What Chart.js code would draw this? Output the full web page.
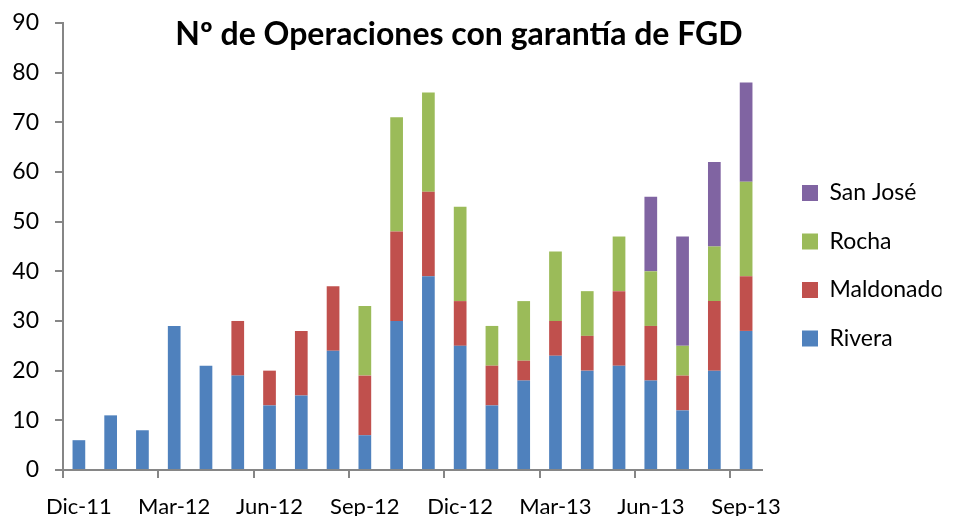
<!DOCTYPE html>
<html>
<head>
<meta charset="utf-8">
<script src="https://cdn.jsdelivr.net/npm/chart.js@4.4.1/dist/chart.umd.min.js"></script>
<style>
  html, body { margin: 0; padding: 0; background: #ffffff; }
  #wrap { position: relative; width: 954px; height: 516px; }
</style>
</head>
<body>
<div id="wrap"><canvas id="c" width="954" height="516"></canvas></div>
<script>
const titleText = "Nº de Operaciones con garantía de FGD";
const months = ["Dic-11","Ene-12","Feb-12","Mar-12","Abr-12","May-12","Jun-12","Jul-12","Ago-12","Sep-12","Oct-12","Nov-12","Dic-12","Ene-13","Feb-13","Mar-13","Abr-13","May-13","Jun-13","Jul-13","Ago-13","Sep-13"];
const rivera    = [6,11,8,29,21,19,13,15,24,7,30,39,25,13,18,23,20,21,18,12,20,28];
const maldonado = [null,null,null,null,null,11,7,13,13,12,18,17,9,8,4,7,7,15,11,7,14,11];
const rocha     = [null,null,null,null,null,null,null,null,null,14,23,20,19,8,12,14,9,11,11,6,11,19];
const sanJose   = [null,null,null,null,null,null,null,null,null,null,null,null,null,null,null,null,null,null,15,22,17,20];
const yTicks = [0,10,20,30,40,50,60,70,80,90];

const FONT = "Lato";
const AXIS = "#868686";

const titlePlugin = {
  id: 'floatTitle',
  afterDraw(chart) {
    const ctx = chart.ctx;
    ctx.save();
    ctx.font = "bold 32px " + FONT;
    ctx.fillStyle = "#000";
    ctx.textAlign = "center";
    ctx.textBaseline = "middle";
    ctx.fillText(titleText, 459, 35);
    ctx.restore();
  }
};

const ds = (label, data, color) => ({
  label, data, backgroundColor: color, borderWidth: 0,
  barPercentage: 0.4, categoryPercentage: 1.0
});

new Chart(document.getElementById('c'), {
  type: 'bar',
  data: {
    labels: months,
    datasets: [
      ds('Rivera', rivera, '#4F81BD'),
      ds('Maldonado', maldonado, '#C0504D'),
      ds('Rocha', rocha, '#9BBB59'),
      ds('San José', sanJose, '#8064A2')
    ]
  },
  options: {
    responsive: false,
    animation: false,
    layout: { padding: { left: 0, right: 12.5, top: 15.5, bottom: 0 } },
    plugins: {
      title: { display: false },
      tooltip: { enabled: false },
      legend: {
        position: 'right',
        reverse: true,
        maxWidth: 165,
        labels: {
          font: { family: FONT, size: 23 },
          color: '#000',
          boxWidth: 16,
          boxHeight: 16,
          padding: 25.5
        }
      }
    },
    scales: {
      x: {
        stacked: true,
        offset: true,
        grid: {
          display: true,
          offset: true,
          drawOnChartArea: false,
          drawTicks: true,
          tickLength: 8,
          lineWidth: 2,
          color: (c) => (c.index % 3 === 0 ? AXIS : 'rgba(0,0,0,0)')
        },
        border: { display: true, color: AXIS, width: 2 },
        ticks: {
          autoSkip: false,
          maxRotation: 0,
          minRotation: 0,
          padding: 15.5,
          color: '#000',
          font: { family: FONT, size: 22 },
          callback: (v, i) => (i % 3 === 0 ? months[i] : '')
        },
        afterFit: (s) => { s.height = 46; }
      },
      y: {
        stacked: true,
        min: 0,
        max: 90,
        afterBuildTicks: (s) => { s.ticks = yTicks.map(v => ({ value: v })); },
        grid: {
          display: true,
          drawOnChartArea: false,
          drawTicks: true,
          tickLength: 8,
          lineWidth: 2,
          color: AXIS
        },
        border: { display: true, color: AXIS, width: 2 },
        ticks: {
          padding: 16,
          color: '#000',
          font: { family: FONT, size: 23, lineHeight: 0.6 }
        },
        afterFit: (s) => { s.width = 63; }
      },
      y2: {
        position: 'right',
        display: true,
        grid: { display: false, drawTicks: false },
        border: { display: false },
        ticks: { display: false },
        afterFit: (s) => { s.width = 14.5; }
      }
    }
  },
  plugins: [titlePlugin]
});
</script>
</body>
</html>
